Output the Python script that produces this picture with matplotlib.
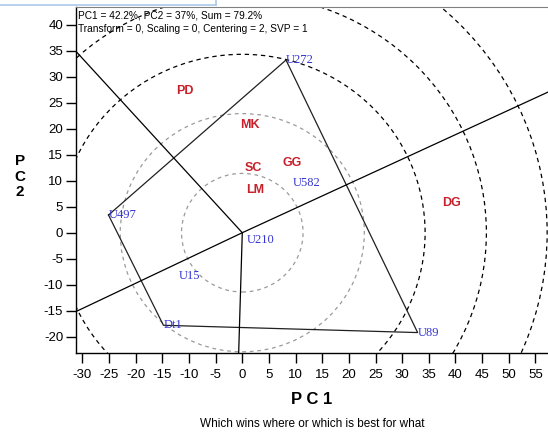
import numpy as np
import matplotlib.pyplot as plt
from matplotlib.patches import Circle
from matplotlib.lines import Line2D

plt.rcParams['font.family'] = ['Liberation Sans', 'DejaVu Sans']
plt.rcParams['axes.unicode_minus'] = False

# genotype scores (PC1, PC2)
genotypes = ['U272', 'U582', 'U497', 'U210', 'U15', 'Dt1', 'U89']
gen_pc1 = [8.2, 9.4, -25.1, 0.8, -12.0, -14.8, 32.9]
gen_pc2 = [33.2, 9.6, 3.4, -1.4, -8.3, -17.8, -19.2]

# environment scores (PC1, PC2)
environments = ['PD', 'MK', 'SC', 'GG', 'LM', 'DG']
env_pc1 = [-10.8, 1.5, 2.0, 9.3, 2.5, 39.2]
env_pc2 = [27.3, 20.7, 12.4, 13.4, 8.2, 5.8]

circle_radii = [11.4, 22.9, 34.3, 45.8, 57.2]

header = ['PC1 = 42.2%, PC2 = 37%, Sum = 79.2%',
          'Transform = 0, Scaling = 0, Centering = 2, SVP = 1']


def convex_hull(pts):
    pts = sorted(pts)
    def cross(o, a, b):
        return (a[0]-o[0])*(b[1]-o[1]) - (a[1]-o[1])*(b[0]-o[0])
    lower, upper = [], []
    for p in pts:
        while len(lower) >= 2 and cross(lower[-2], lower[-1], p) <= 0:
            lower.pop()
        lower.append(p)
    for p in reversed(pts):
        while len(upper) >= 2 and cross(upper[-2], upper[-1], p) <= 0:
            upper.pop()
        upper.append(p)
    return lower[:-1] + upper[:-1]


fig = plt.figure(figsize=(5.48, 4.34), dpi=100)
ax = fig.add_axes([0.1381, 0.1859, 0.8619, 0.798])
ax.set_xlim(-31.26, 57.36)
ax.set_ylim(-23.19, 43.4)

# concentric circles
for i, r in enumerate(circle_radii):
    if i < 2:
        c = Circle((0, 0), r, fill=False, ec='#9a9a9a', lw=0.9, ls=(0, (3, 3)))
    else:
        c = Circle((0, 0), r, fill=False, ec='black', lw=0.9, ls=(0, (3.5, 3)))
    ax.add_patch(c)

# polygon + rays perpendicular to its sides
hull = convex_hull(list(zip(gen_pc1, gen_pc2)))
hx = [p[0] for p in hull] + [hull[0][0]]
hy = [p[1] for p in hull] + [hull[0][1]]
ax.plot(hx, hy, color='#202020', lw=0.9)
for k in range(len(hull)):
    a = np.array(hull[k])
    b = np.array(hull[(k + 1) % len(hull)])
    d = b - a
    t = -np.dot(a, d) / np.dot(d, d)
    foot = a + t * d
    u = foot / np.linalg.norm(foot)
    ax.plot([0, u[0] * 200], [0, u[1] * 200], color='black', lw=0.9)

for name, x, y in zip(genotypes, gen_pc1, gen_pc2):
    ax.text(x, y, name, color='#3434d0', fontsize=9, family='Liberation Serif',
            ha='left', va='center')

for name, x, y in zip(environments, env_pc1, env_pc2):
    ax.text(x, y, name, color='#c8202a', fontsize=9, fontweight='bold',
            ha='center', va='center')

ax.set_xticks(np.arange(-30, 56, 5))
ax.set_yticks(np.arange(-20, 41, 5))
ax.tick_params(axis='x', direction='out', length=7, width=1, pad=4, labelsize=9.5)
ax.tick_params(axis='y', direction='out', length=7.5, width=1, pad=1.5, labelsize=9.5)
ax.spines['right'].set_visible(False)
ax.spines['top'].set_color('#808080')
ax.spines['left'].set_linewidth(1)
ax.spines['bottom'].set_linewidth(1)

ax.text(0.005, 0.975, header[0], transform=ax.transAxes, fontsize=7.3,
        ha='left', va='center')
ax.text(0.005, 0.935, header[1], transform=ax.transAxes, fontsize=7.3,
        ha='left', va='center')

fig.text(20 / 548, 1 - 176.7 / 434, 'P\nC\n2', fontsize=11, fontweight='bold',
         ha='center', va='center', linespacing=1.15)
fig.text(312 / 548, 1 - 400 / 434, 'P C 1', fontsize=12, fontweight='bold',
         ha='center', va='center')
fig.text(312 / 548, 1 - 424 / 434, 'Which wins where or which is best for what',
         fontsize=8.5, ha='center', va='center')

# light blue tab edge at top left
fig.add_artist(Line2D([0, 216 / 548], [1 - 5 / 434, 1 - 5 / 434], color='#a9c9ea', lw=1.2))
fig.add_artist(Line2D([216 / 548, 216 / 548], [1, 1 - 5 / 434], color='#a9c9ea', lw=1.2))

fig.savefig('out.png', dpi=100)
